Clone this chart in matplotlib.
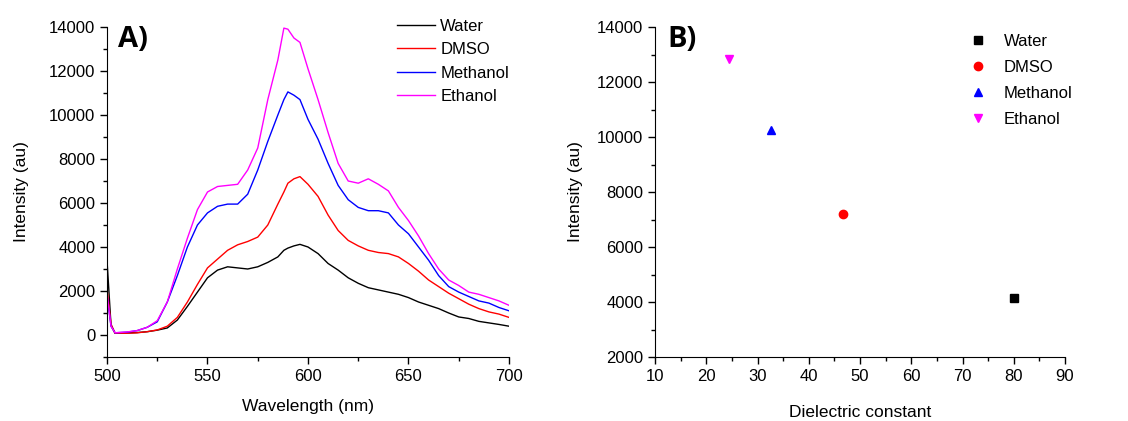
import numpy as np
import matplotlib
matplotlib.use("Agg")
import matplotlib.pyplot as plt
from matplotlib.ticker import MultipleLocator

plt.rcParams['font.family'] = ['Liberation Sans', 'DejaVu Sans']

# emission spectra (panel A)
wavelength = [500, 502, 504, 510, 515, 520, 525, 530, 535, 540, 545, 550, 555, 560, 565,
              570, 575, 580, 585, 588, 590, 593, 596, 600, 605, 610, 615, 620, 625, 630,
              635, 640, 645, 650, 655, 660, 665, 670, 675, 680, 685, 690, 695, 700]
water = [3400, 450, 80, 90, 110, 150, 220, 320, 680, 1300, 1950, 2600, 2950, 3100, 3050,
         3000, 3100, 3300, 3550, 3850, 3950, 4050, 4120, 4000, 3700, 3250, 2950, 2600, 2350, 2150,
         2050, 1950, 1850, 1700, 1500, 1350, 1200, 1000, 820, 750, 620, 550, 480, 400]
dmso = [2100, 500, 80, 80, 100, 150, 230, 400, 800, 1500, 2300, 3050, 3450, 3850, 4100,
        4250, 4450, 5000, 5950, 6500, 6900, 7100, 7200, 6850, 6300, 5450, 4750, 4300, 4050, 3850,
        3750, 3700, 3550, 3250, 2900, 2500, 2200, 1900, 1650, 1400, 1200, 1050, 950, 800]
methanol = [1800, 400, 100, 130, 200, 350, 600, 1500, 2700, 4000, 5000, 5550, 5850, 5950, 5950,
            6400, 7500, 8800, 10000, 10700, 11050, 10900, 10700, 9800, 8900, 7800, 6800, 6150, 5800, 5650,
            5650, 5550, 5000, 4600, 4000, 3400, 2700, 2200, 1950, 1750, 1550, 1450, 1250, 1100]
ethanol = [1900, 400, 100, 140, 200, 350, 650, 1500, 3000, 4400, 5700, 6500, 6750, 6800, 6850,
           7500, 8500, 10700, 12500, 13950, 13900, 13500, 13300, 12100, 10700, 9200, 7800, 7000, 6900, 7100,
           6850, 6550, 5800, 5200, 4500, 3700, 3000, 2500, 2250, 1950, 1850, 1700, 1550, 1350]

# peak intensity vs dielectric constant (panel B)
solvents = ['Water', 'DMSO', 'Methanol', 'Ethanol']
dielectric = [80.1, 46.7, 32.7, 24.5]
peak_int = [4150, 7200, 10250, 12850]
colors = ['black', 'red', 'blue', 'magenta']
markers = ['s', 'o', '^', 'v']

fig = plt.figure(figsize=(11.28, 4.21), dpi=100)
ax1 = fig.add_axes([107/1128, 1-357/421, 402/1128, 330/421])
ax2 = fig.add_axes([655/1128, 1-357/421, 410/1128, 330/421])

for name, y, c in zip(solvents, [water, dmso, methanol, ethanol], colors):
    ax1.plot(wavelength, y, color=c, lw=1, label=name)

ax1.set_xlim(500, 700)
ax1.set_ylim(-1000, 14000)
ax1.xaxis.set_major_locator(MultipleLocator(50))
ax1.xaxis.set_minor_locator(MultipleLocator(25))
ax1.yaxis.set_major_locator(MultipleLocator(2000))
ax1.yaxis.set_minor_locator(MultipleLocator(1000))
ax1.set_xlabel('Wavelength (nm)', fontsize=12.5, labelpad=11)
ax1.set_ylabel('Intensity (au)', fontsize=12.5, labelpad=14)
ax1.legend(loc='upper left', bbox_to_anchor=(397/1128, 1-19/421), bbox_transform=fig.transFigure,
           frameon=False, fontsize=12, handlelength=2.3, handletextpad=0.3, labelspacing=0.5,
           borderaxespad=0, borderpad=0)

for name, x, y, c, m in zip(solvents, dielectric, peak_int, colors, markers):
    ax2.plot(x, y, linestyle='none', marker=m, color=c, markersize=6, label=name)

ax2.set_xlim(10, 90)
ax2.set_ylim(2000, 14000)
ax2.xaxis.set_major_locator(MultipleLocator(10))
ax2.xaxis.set_minor_locator(MultipleLocator(5))
ax2.yaxis.set_major_locator(MultipleLocator(2000))
ax2.yaxis.set_minor_locator(MultipleLocator(1000))
ax2.set_xlabel('Dielectric constant', fontsize=12.5, labelpad=15)
ax2.set_ylabel('Intensity (au)', fontsize=12.5, labelpad=10)
ax2.legend(loc='upper left', bbox_to_anchor=(961/1128, 1-34/421), bbox_transform=fig.transFigure,
           frameon=False, fontsize=12, handlelength=2.0, handletextpad=0.55, labelspacing=0.66,
           borderaxespad=0, borderpad=0, numpoints=1)

for ax in (ax1, ax2):
    ax.spines['top'].set_visible(False)
    ax.spines['right'].set_visible(False)
    ax.tick_params(which='major', direction='out', length=5, width=1, labelsize=12)
    ax.tick_params(which='minor', direction='out', length=3, width=1)

fig.text(118/1128, 1-25/421, 'A)', family='Open Sans', fontweight='bold', fontsize=21, va='top')
fig.text(667/1128, 1-25/421, 'B)', family='Open Sans', fontweight='bold', fontsize=21, va='top')

fig.savefig('out.png', dpi=100)
